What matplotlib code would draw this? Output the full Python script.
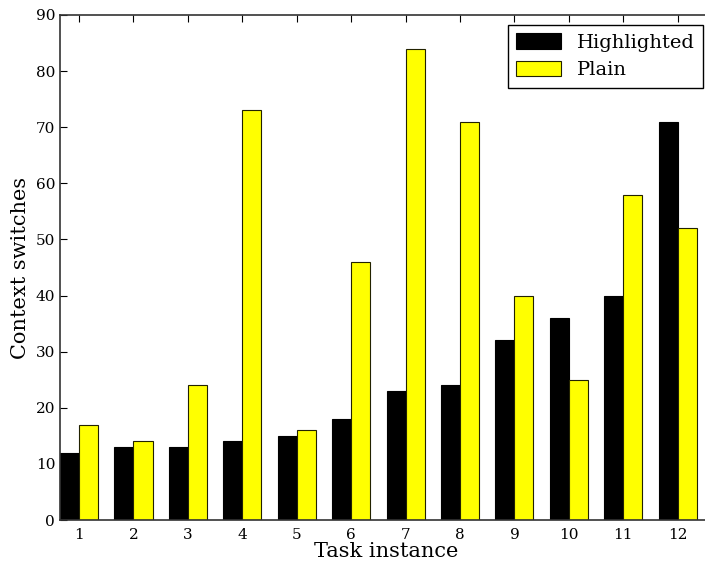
import numpy as np
import matplotlib
matplotlib.use("Agg")
import matplotlib.pyplot as plt

plt.rcParams['font.family'] = ['DejaVu Serif']

tasks = np.arange(1, 13)
highlighted = [12, 13, 13, 14, 15, 18, 23, 24, 32, 36, 40, 71]
plain = [17, 14, 24, 73, 16, 46, 84, 71, 40, 25, 58, 52]

width = 0.35

fig = plt.figure(figsize=(7.05, 5.69), dpi=100)
# axes runs a little past the right edge of the figure, as in the original
ax = fig.add_axes([60 / 705, 49 / 569, 653 / 705, 505 / 569])

ax.bar(tasks - width / 2, highlighted, width, color='black', edgecolor='black',
       linewidth=0.8, label='Highlighted')
ax.bar(tasks + width / 2, plain, width, color='yellow', edgecolor='#222200',
       linewidth=0.8, label='Plain')

ax.set_xlim(0.65, 12.65)
ax.set_ylim(0, 90)
ax.set_xticks(tasks)
ax.set_yticks(np.arange(0, 91, 10))
ax.tick_params(axis='x', direction='in', top=True, bottom=False, length=5,
               labelsize=11, pad=6)
ax.tick_params(axis='y', direction='in', left=True, right=False, length=5,
               labelsize=11)
ax.spines['right'].set_visible(False)
for s in ['left', 'bottom', 'top']:
    ax.spines[s].set_color('#333333')
    ax.spines[s].set_linewidth(1.2)

ax.set_xlabel('Task instance', fontsize=15, labelpad=0)
ax.set_ylabel('Context switches', fontsize=15, labelpad=4)

leg = ax.legend(loc='upper right', fontsize=14, fancybox=False, framealpha=1,
                edgecolor='black', borderaxespad=0.5, handlelength=2.3,
                handleheight=0.85, borderpad=0.45, labelspacing=0.45)
leg.get_frame().set_linewidth(1.0)

fig.savefig('out.png', dpi=100)
